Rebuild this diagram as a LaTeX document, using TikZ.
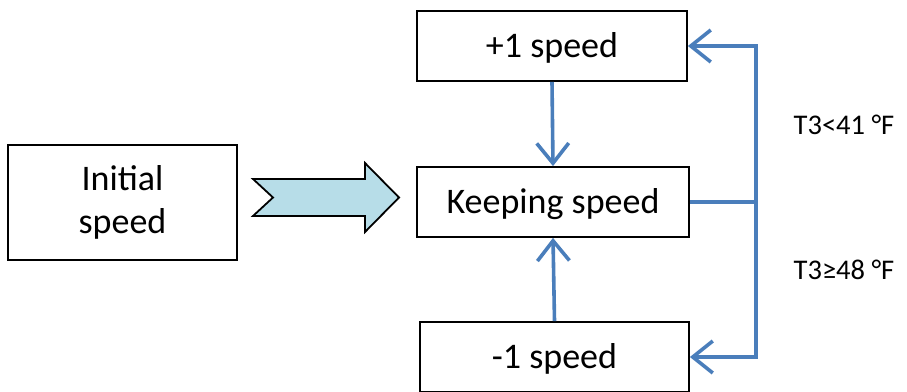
\documentclass[tikz,border=0pt]{standalone}
\usepackage{fontspec}
\setmainfont{Carlito}
\usetikzlibrary{arrows.meta}
\definecolor{flowblue}{HTML}{4A7EBB}
\definecolor{chevfill}{HTML}{B7DDE8}
\begin{document}
\begin{tikzpicture}[x=1pt,y=-1pt,
  box/.style={draw=black,line width=1.8pt,fill=white,inner sep=0pt,
    font=\fontsize{36}{43}\selectfont,align=center},
  onerow/.style={box,text height=26pt,text depth=4pt},
  flow/.style={draw=flowblue,line width=3.6pt,
    -{Straight Barb[length=20pt,width=32pt,line width=3.6pt]}},
  flowline/.style={draw=flowblue,line width=3.6pt},
  cond/.style={font=\fontsize{28.5}{34}\selectfont,anchor=base}]
\useasboundingbox (0,0) rectangle (907,391);
\clip (0,0) rectangle (907,391);
% process boxes
\node[box,minimum width=229pt,minimum height=115pt] (init) at (122.5,202.5) {Initial\\speed};
\node[onerow,minimum width=270pt,minimum height=70pt] (p1) at (552,46) {+1 speed};
\node[onerow,minimum width=272pt,minimum height=70pt] (keep) at (553,202) {Keeping speed};
\node[onerow,minimum width=269pt,minimum height=70pt] (m1) at (554.5,357) {-1 speed};
% block arrow into the control loop
\draw[fill=chevfill,line width=1.8pt,line join=miter]
  (253,179) -- (365,179) -- (365,163) -- (399,197.5) -- (365,232) -- (365,216)
  -- (253,216) -- (273,197.5) -- cycle;
% speed adjustment arrows
\draw[flow] (p1.south) -- (keep.north);
\draw[flow] (m1.north) -- (keep.south);
% temperature feedback loop
\coordinate (j) at (756,202);
\draw[flowline] (keep.east) -- (j);
\draw[flow] (j) |- (p1.east);
\draw[flow] (j) |- (m1.east);
% switching conditions
\node[cond] (c1) at (844,134) {T3<41 °F};
\node[cond] (c2) at (844,279) {T3≥48 °F};
\end{tikzpicture}
\end{document}
